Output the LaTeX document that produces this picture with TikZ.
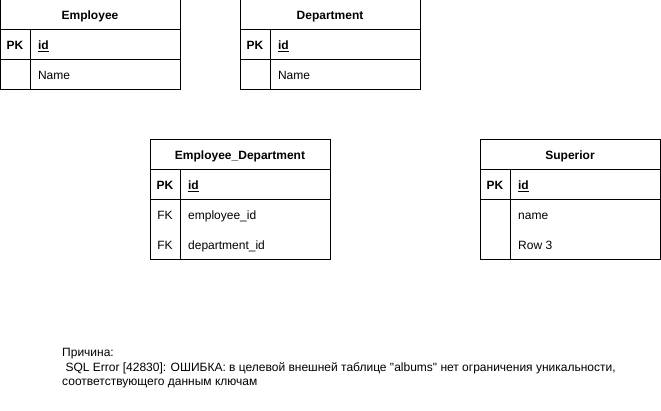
\documentclass[tikz,border=0pt]{standalone}
\usepackage{fontspec}
\setmainfont{Liberation Sans}
\usepackage{tikz}

\tikzset{
    box/.style={draw, rectangle, line width=1pt, inner sep=0pt, minimum height=30, text height=9, text depth=0},
    title/.style={box, minimum width=180, font=\fontsize{12}{14.4}\selectfont\bfseries},
    key/.style={box, minimum width=30, font=\fontsize{12}{14.4}\selectfont\bfseries},
    field/.style={box, minimum width=150, text width=134, align=left, font=\fontsize{12}{14.4}\selectfont},
    keyText/.style={inner sep=0pt, text height=9, text depth=0, font=\fontsize{12}{14.4}\selectfont},
    fieldText/.style={anchor=west, inner sep=0pt, text height=9, text depth=0, font=\fontsize{12}{14.4}\selectfont},
    note/.style={anchor=north west, align=left, inner sep=0pt, font=\fontsize{12}{14.4}\selectfont}
}

\begin{document}
\begin{tikzpicture}[x=1pt, y=-1pt]
            \useasboundingbox (0,0) rectangle (661,411);

            % Tables Employee and Department
            \foreach \tab/\x in {Employee/0, Department/240}
            {
                \node[title] (\tab-head) at (\x+90,15) {\tab};
                \node[key] (\tab-pk) at (\x+15,45) {PK};
                \node[field] (\tab-id) at (\x+105,45) {\underline{\textbf{id}}};
                \node[key] (\tab-key2) at (\x+15,75) {};
                \node[field] (\tab-name) at (\x+105,75) {Name};
            }

            % Table Employee_Department
            \node[title] (EmpDep-head) at (240,155) {Employee\_Department};
            \node[key] (EmpDep-pk) at (165,185) {PK};
            \node[field] (EmpDep-id) at (255,185) {\underline{\textbf{id}}};
            \node[key, minimum height=60] (EmpDep-keys) at (165,230) {};
            \node[field, minimum height=60] (EmpDep-fields) at (255,230) {};
            \node[keyText] (EmpDep-fk1) at (165,215) {FK};
            \node[keyText] (EmpDep-fk2) at (165,245) {FK};
            \node[fieldText] (EmpDep-employee) at (188,215) {employee\_id};
            \node[fieldText] (EmpDep-department) at (188,245) {department\_id};

            % Table Superior
            \node[title] (Superior-head) at (570,155) {Superior};
            \node[key] (Superior-pk) at (495,185) {PK};
            \node[field] (Superior-id) at (585,185) {\underline{\textbf{id}}};
            \node[key, minimum height=60] (Superior-keys) at (495,230) {};
            \node[field, minimum height=60] (Superior-fields) at (585,230) {};
            \node[fieldText] (Superior-name) at (518,215) {name};
            \node[fieldText] (Superior-row3) at (518,245) {Row 3};

            % Error message
            \node[note] (reason) at (62,348.5) {Причина:\\~SQL Error [42830]: ОШИБКА: в целевой внешней таблице \textquotedbl{}albums\textquotedbl{} нет ограничения уникальности,\\соответствующего данным ключам};

        \end{tikzpicture}
\end{document}
